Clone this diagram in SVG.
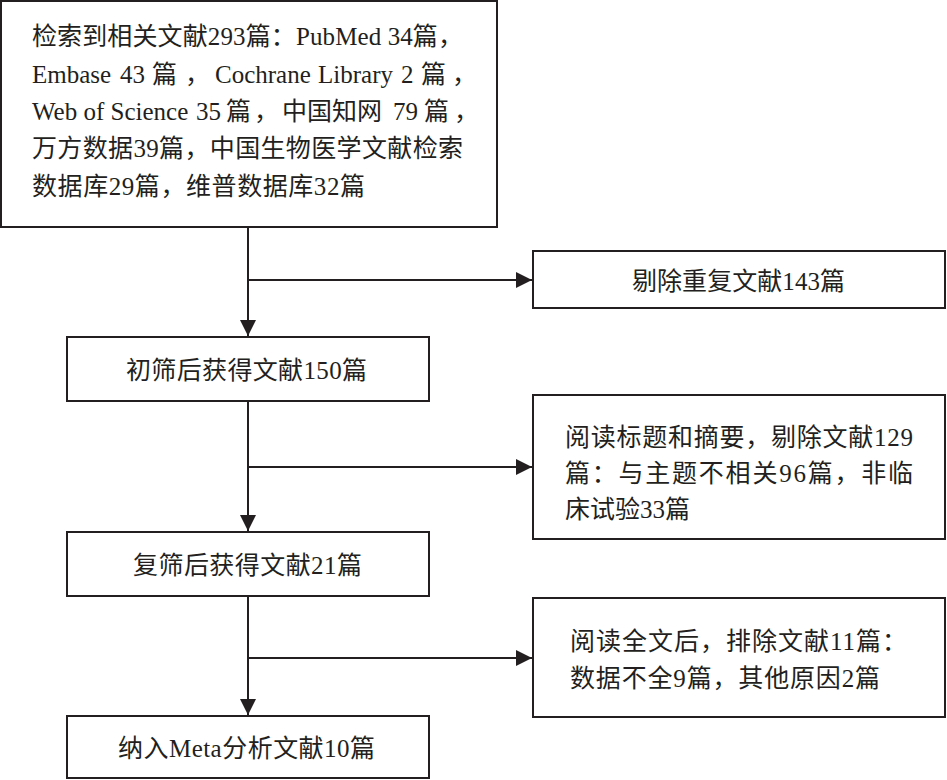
<svg xmlns="http://www.w3.org/2000/svg" width="947" height="780" viewBox="0 0 947 780">
<style>
  .box { fill: #ffffff; stroke: #231f20; stroke-width: 2; }
  .t { font-family: "Liberation Serif", "Noto Sans CJK SC", serif; font-size: 25px; fill: #231f20; }
  .c { stroke: #231f20; stroke-width: 2; fill: none; marker-end: url(#ah); }
</style>
<defs>
  <marker id="ah" markerWidth="16" markerHeight="16" refX="16" refY="8" orient="auto" markerUnits="userSpaceOnUse" viewBox="0 0 16 16">
    <path d="M0,0 L16,8 L0,16 Z" fill="#231f20"/>
  </marker>
</defs>
<rect width="947" height="780" fill="#ffffff"/>

<g id="connectors">
  <line class="c" x1="248" y1="227" x2="248" y2="336"/>
  <line class="c" x1="248" y1="280" x2="532" y2="280"/>
  <line class="c" x1="248" y1="401" x2="248" y2="531"/>
  <line class="c" x1="248" y1="467" x2="532" y2="467"/>
  <line class="c" x1="248" y1="596" x2="248" y2="715"/>
  <line class="c" x1="248" y1="658" x2="532" y2="658"/>
</g>

<g id="node-search">
  <rect class="box" x="1" y="1" width="496" height="226"/>
  <text class="t" x="32" y="45" textLength="431" lengthAdjust="spacing">检索到相关文献293篇：PubMed 34篇，</text>
  <text class="t" y="83"><tspan x="32">Embase</tspan><tspan x="120">43</tspan><tspan x="152">篇</tspan><tspan x="185">，</tspan><tspan x="215">Cochrane</tspan><tspan x="318">Library</tspan><tspan x="401">2</tspan><tspan x="421">篇</tspan><tspan x="452">，</tspan></text>
  <text class="t" y="120"><tspan x="32">Web of Science</tspan><tspan x="196">35</tspan><tspan x="226">篇</tspan><tspan x="254">，</tspan><tspan x="282">中国知网</tspan><tspan x="393">79</tspan><tspan x="424">篇</tspan><tspan x="454">，</tspan></text>
  <text class="t" x="32" y="157" textLength="431" lengthAdjust="spacing">万方数据39篇，中国生物医学文献检索</text>
  <text class="t" x="32" y="195" textLength="333" lengthAdjust="spacing">数据库29篇，维普数据库32篇</text>
</g>

<g id="node-duplicates">
  <rect class="box" x="533" y="251" width="412" height="57"/>
  <text class="t" x="632" y="290" textLength="213" lengthAdjust="spacing">剔除重复文献143篇</text>
</g>

<g id="node-initial">
  <rect class="box" x="67" y="337" width="362" height="64"/>
  <text class="t" x="126" y="379" textLength="241" lengthAdjust="spacing">初筛后获得文献150篇</text>
</g>

<g id="node-title-abstract">
  <rect class="box" x="533" y="395" width="412" height="144"/>
  <text class="t" x="565" y="446" textLength="348" lengthAdjust="spacing">阅读标题和摘要，剔除文献129</text>
  <text class="t" x="565" y="482" textLength="348" lengthAdjust="spacing">篇：与主题不相关96篇，非临</text>
  <text class="t" x="565" y="518" textLength="125" lengthAdjust="spacing">床试验33篇</text>
</g>

<g id="node-second">
  <rect class="box" x="67" y="532" width="362" height="64"/>
  <text class="t" x="133" y="574" textLength="229" lengthAdjust="spacing">复筛后获得文献21篇</text>
</g>

<g id="node-fulltext">
  <rect class="box" x="533" y="598" width="412" height="119"/>
  <text class="t" x="570" y="650" textLength="337" lengthAdjust="spacing">阅读全文后，排除文献11篇：</text>
  <text class="t" x="570" y="687" textLength="310" lengthAdjust="spacing">数据不全9篇，其他原因2篇</text>
</g>

<g id="node-included">
  <rect class="box" x="67" y="716" width="362" height="62"/>
  <text class="t" x="118" y="757" textLength="257" lengthAdjust="spacing">纳入Meta分析文献10篇</text>
</g>
</svg>
